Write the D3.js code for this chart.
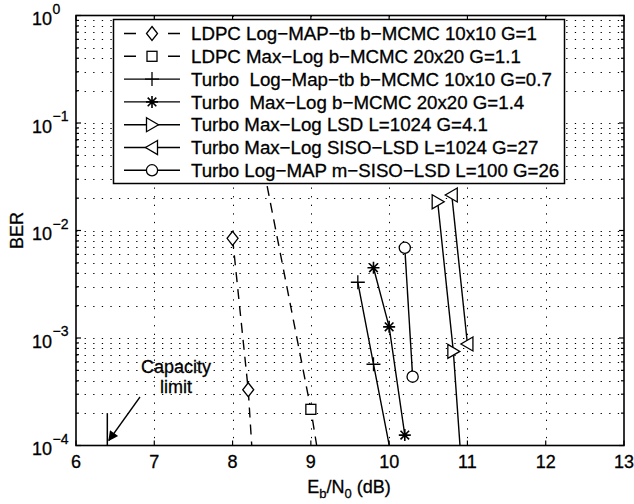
<!DOCTYPE html>
<html><head><meta charset="utf-8">
<script src="https://cdn.jsdelivr.net/npm/d3@7"></script>
<style>body{margin:0;background:#fff}svg{display:block}text{font-family:"Liberation Sans",Arial,sans-serif;fill:#000;stroke:#000;stroke-width:0.3px}</style>
</head><body><svg id="c" width="634" height="504"></svg>
<script>
// ---- data ----
const seriesNames = [
  "LDPC Log\u2212MAP\u2212tb b\u2212MCMC 10x10 G=1",
  "LDPC Max\u2212Log b\u2212MCMC 20x20 G=1.1",
  "Turbo  Log\u2212Map\u2212tb b\u2212MCMC 10x10 G=0.7",
  "Turbo  Max\u2212Log b\u2212MCMC 20x20 G=1.4",
  "Turbo Max\u2212Log LSD L=1024 G=4.1",
  "Turbo Max\u2212Log SISO\u2212LSD L=1024 G=27",
  "Turbo Log\u2212MAP m\u2212SISO\u2212LSD L=100 G=26"
];
const seriesMarkers = ["diamond","square","plus","star","triRight","triLeft","circle"];
const seriesDashed = [true,true,false,false,false,false,false];
const ldpcLogMapX = [8.0, 8.2, 8.3];
const ldpcLogMapY = [8.45e-3, 3.3e-4, 2.3e-5];
const ldpcMaxLogX = [8.4, 9.0, 9.2];
const ldpcMaxLogY = [3.7e-2, 2.17e-4, 2.7e-5];
const turboLogMapX = [9.6, 9.8, 10.2];
const turboLogMapY = [3.3e-3, 5.7e-4, 1.8e-5];
const turboMaxLogX = [9.8, 10.0, 10.2];
const turboMaxLogY = [4.5e-3, 1.27e-3, 1.25e-4];
const turboLsdX = [10.62, 10.82, 11.0];
const turboLsdY = [1.85e-2, 7.5e-4, 1.05e-5];
const turboSisoLsdX = [10.8, 11.0];
const turboSisoLsdY = [2.14e-2, 8.8e-4];
const turboMSisoX = [10.2, 10.3];
const turboMSisoY = [6.9e-3, 4.37e-4];
const xTicks = [6,7,8,9,10,11,12,13];
const yExponents = [0,-1,-2,-3,-4];
const capacityX = 6.4;
const capacityY = [1e-4, 2e-4];
const xLabel = ["E","b","/N","0"," (dB)"];
const yLabel = "BER";
const annotation = ["Capacity","limit"];

const seriesX = [ldpcLogMapX, ldpcMaxLogX, turboLogMapX, turboMaxLogX, turboLsdX, turboSisoLsdX, turboMSisoX];
const seriesY = [ldpcLogMapY, ldpcMaxLogY, turboLogMapY, turboMaxLogY, turboLsdY, turboSisoLsdY, turboMSisoY];

// ---- layout ----
const L = 76, R = 624, T = 15.5, B = 445.5;
const x = d3.scaleLinear().domain([6,13]).range([L,R]);
const y = d3.scaleLog().domain([1e-4,1]).range([B,T]);
const svg = d3.select("#c");

svg.append("defs").append("clipPath").attr("id","clip")
  .append("rect").attr("x",L).attr("y",T).attr("width",R-L).attr("height",B-T);

// grid
const grid = svg.append("g").attr("stroke","#000").attr("stroke-width",1).attr("stroke-dasharray","1.3,7.3");
xTicks.slice(1,-1).forEach(v=>{
  grid.append("line").attr("x1",Math.round(x(v))+0.5).attr("x2",Math.round(x(v))+0.5).attr("y1",T).attr("y2",B);
});
const yMinor = [];
for (let e=-4;e<0;e++) for (let m=1;m<10;m++) yMinor.push(m*Math.pow(10,e));
yMinor.filter(v=>v>1e-4).forEach(v=>{
  const yy = Math.round(y(v))+0.5;
  grid.append("line").attr("x1",L).attr("x2",R).attr("y1",yy).attr("y2",yy);
});

// data lines
const plot = svg.append("g").attr("clip-path","url(#clip)");
const line = d3.line().x(d=>x(d[0])).y(d=>y(d[1]));

function marker(g, type, cx, cy){
  const s = g.append("g").attr("transform",`translate(${cx},${cy})`)
    .attr("fill","#fff").attr("stroke","#000").attr("stroke-width",1.3);
  if(type==="diamond") s.append("path").attr("d","M0,-7L5.5,0L0,7L-5.5,0Z");
  else if(type==="square") s.append("rect").attr("x",-5).attr("y",-5).attr("width",10).attr("height",10);
  else if(type==="plus") s.append("path").attr("fill","none").attr("d","M-7,0H7M0,-7V7");
  else if(type==="star") s.append("path").attr("fill","none").attr("stroke-width",1.6).attr("d","M-6,0H6M0,-6V6M-4.3,-4.3L4.3,4.3M-4.3,4.3L4.3,-4.3");
  else if(type==="triRight") s.append("path").attr("d","M-5.5,-7L6.5,0L-5.5,7Z");
  else if(type==="triLeft") s.append("path").attr("d","M5.5,-7L-6.5,0L5.5,7Z");
  else if(type==="circle") s.append("circle").attr("r",5.6);
}

seriesX.forEach((xs,i)=>{
  const pts = xs.map((v,j)=>[v, seriesY[i][j]]);
  plot.append("path").attr("d",line(pts)).attr("fill","none").attr("stroke","#000")
    .attr("stroke-width",1.4).attr("stroke-dasharray", seriesDashed[i] ? "10,7" : null);
  pts.forEach(p=>{
    if(p[0]>=6 && p[0]<=13 && p[1]>=1e-4 && p[1]<=1) marker(plot, seriesMarkers[i], x(p[0]), y(p[1]));
  });
});

// capacity limit
svg.append("line").attr("x1",x(capacityX)).attr("x2",x(capacityX)).attr("y1",y(capacityY[0])).attr("y2",y(capacityY[1]))
  .attr("stroke","#000").attr("stroke-width",1.5);
svg.append("defs").append("marker").attr("id","arr").attr("viewBox","0 0 10 10").attr("refX",9).attr("refY",5)
  .attr("markerWidth",13).attr("markerHeight",10).attr("markerUnits","userSpaceOnUse").attr("orient","auto")
  .append("path").attr("d","M0,0L10,5L0,10Z").attr("fill","#000");
svg.append("line").attr("x1",140).attr("y1",397).attr("x2",x(capacityX)+1.5).attr("y2",y(1e-4)-5)
  .attr("stroke","#000").attr("stroke-width",1.3).attr("marker-end","url(#arr)");
svg.append("text").attr("x",176).attr("y",373).attr("text-anchor","middle").attr("font-size",18).text(annotation[0]);
svg.append("text").attr("x",176).attr("y",393).attr("text-anchor","middle").attr("font-size",18).text(annotation[1]);

// axes box
svg.append("rect").attr("x",L).attr("y",T).attr("width",R-L).attr("height",B-T)
  .attr("fill","none").attr("stroke","#000").attr("stroke-width",1.6);
const ticks = svg.append("g").attr("stroke","#000").attr("stroke-width",1.2);
xTicks.forEach(v=>{
  ticks.append("line").attr("x1",x(v)).attr("x2",x(v)).attr("y1",B).attr("y2",B-5);
  ticks.append("line").attr("x1",x(v)).attr("x2",x(v)).attr("y1",T).attr("y2",T+5);
});
yMinor.concat([1]).forEach(v=>{
  const len = (Math.abs(Math.log10(v)-Math.round(Math.log10(v)))<1e-9) ? 5 : 3;
  ticks.append("line").attr("x1",L).attr("x2",L+len).attr("y1",y(v)).attr("y2",y(v));
  ticks.append("line").attr("x1",R).attr("x2",R-len).attr("y1",y(v)).attr("y2",y(v));
});

// tick labels
xTicks.forEach(v=>{
  svg.append("text").attr("x",x(v)).attr("y",468).attr("text-anchor","middle").attr("font-size",18).text(v);
});
yExponents.forEach(e=>{
  const yy = y(Math.pow(10,e));
  svg.append("text").attr("x",52).attr("y",yy+9.5).attr("text-anchor","end").attr("font-size",18).text("10");
  svg.append("text").attr("x",52.5).attr("y",yy-2).attr("text-anchor","start").attr("font-size",14)
    .text(e===0 ? "0" : "\u2212"+Math.abs(e));
});

// axis labels
svg.append("text").attr("transform","translate(23,230.5) rotate(-90)").attr("text-anchor","middle")
  .attr("font-size",18).text(yLabel);
const xl = svg.append("text").attr("x",349).attr("y",493).attr("text-anchor","middle").attr("font-size",18);
xl.append("tspan").text(xLabel[0]);
xl.append("tspan").attr("font-size",13).attr("dy",5).text(xLabel[1]);
xl.append("tspan").attr("dy",-5).text(xLabel[2]);
xl.append("tspan").attr("font-size",13).attr("dy",5).text(xLabel[3]);
xl.append("tspan").attr("dy",-5).style("white-space","pre").text(xLabel[4]);

// legend
const lg = svg.append("g");
lg.append("rect").attr("x",113.5).attr("y",19.5).attr("width",451).attr("height",164)
  .attr("fill","#fff").attr("stroke","#000").attr("stroke-width",1.5);
seriesNames.forEach((nm,i)=>{
  const cy = 33.5 + i*22.8;
  lg.append("line").attr("x1",124).attr("x2",180).attr("y1",cy).attr("y2",cy).attr("stroke","#000")
    .attr("stroke-width",1.4).attr("stroke-dasharray", seriesDashed[i] ? "12,32,12" : null);
  marker(lg, seriesMarkers[i], 152, cy);
  lg.append("text").attr("x",191).attr("y",cy).attr("dy","0.36em").attr("font-size",18.7)
    .style("white-space","pre").text(nm);
});
</script></body></html>
